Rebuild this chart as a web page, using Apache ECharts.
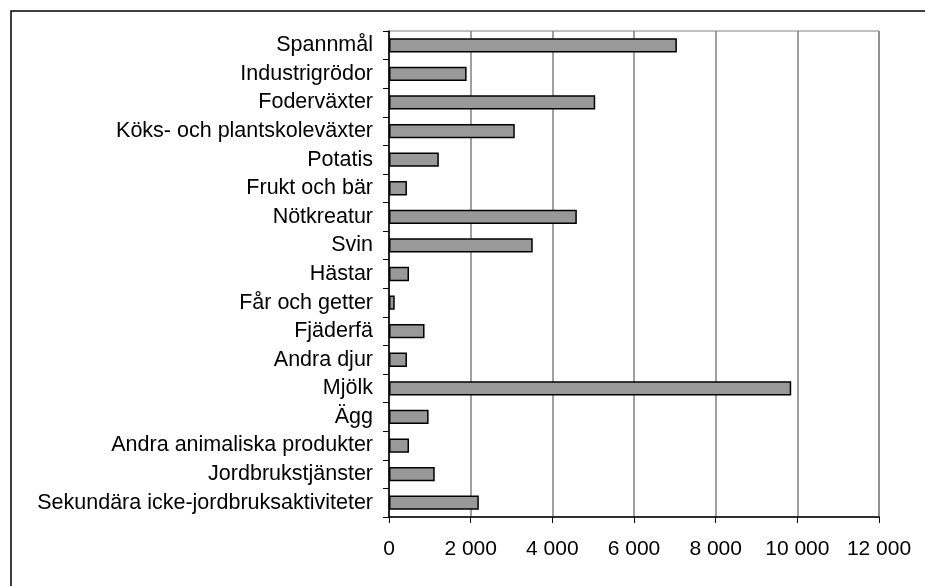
<!DOCTYPE html>
<html>
<head>
<meta charset="utf-8">
<script src="https://cdn.jsdelivr.net/npm/echarts@6/dist/echarts.min.js"></script>
<style>
  html, body { margin: 0; padding: 0; background: #fff; }
  #chart { width: 925px; height: 586px; }
</style>
</head>
<body>
<div id="chart"></div>
<script>
// kategorier, uppifrån och ned
var categories = [
  "Spannmål", "Industrigrödor", "Foderväxter", "Köks- och plantskoleväxter",
  "Potatis", "Frukt och bär", "Nötkreatur", "Svin", "Hästar",
  "Får och getter", "Fjäderfä", "Andra djur", "Mjölk", "Ägg",
  "Andra animaliska produkter", "Jordbrukstjänster",
  "Sekundära icke-jordbruksaktiviteter"
];
var values = [
  7050, 1900, 5050, 3080, 1220, 440, 4600, 3520, 490,
  140, 870, 440, 9850, 970, 490, 1120, 2200
];
var xTicks = [0, 2000, 4000, 6000, 8000, 10000, 12000];

var font = "'Liberation Sans', Arial, sans-serif";
var myChart = echarts.init(document.getElementById("chart"));

var option = {
  animation: false,
  backgroundColor: "#fff",
  graphic: [
    {
      // yttre ram (vänster + topp)
      type: "polyline",
      silent: true,
      shape: { points: [[11, 586], [11, 11], [925, 11]] },
      style: { stroke: "#000", lineWidth: 1.5, fill: null }
    }
  ],
  grid: {
    left: 389,
    right: 46,
    top: 31,
    bottom: 69,
    show: true,
    borderColor: "#808080",
    borderWidth: 1
  },
  xAxis: {
    type: "value",
    min: xTicks[0],
    max: xTicks[xTicks.length - 1],
    interval: 2000,
    axisLine: { show: true, lineStyle: { color: "#000", width: 1.5 } },
    axisTick: { show: true, length: 6, lineStyle: { color: "#000" } },
    splitLine: { show: true, lineStyle: { color: "#808080", width: 1.5 } },
    axisLabel: {
      margin: 22,
      fontFamily: font,
      fontSize: 21,
      color: "#000",
      formatter: function (v) {
        return String(v).replace(/\B(?=(\d{3})+(?!\d))/g, " ");
      }
    }
  },
  yAxis: {
    type: "category",
    inverse: true,
    data: categories,
    axisLine: { show: true, lineStyle: { color: "#000", width: 1.5 } },
    axisTick: { show: true, length: 6, lineStyle: { color: "#000" } },
    splitLine: { show: false },
    axisLabel: {
      margin: 16,
      fontFamily: font,
      fontSize: 21.5,
      color: "#000",
      interval: 0
    }
  },
  series: [
    {
      type: "bar",
      data: values,
      barWidth: "50%",
      itemStyle: {
        color: "#999999",
        borderColor: "#000",
        borderWidth: 1.5
      }
    }
  ]
};

myChart.setOption(option);
</script>
</body>
</html>
